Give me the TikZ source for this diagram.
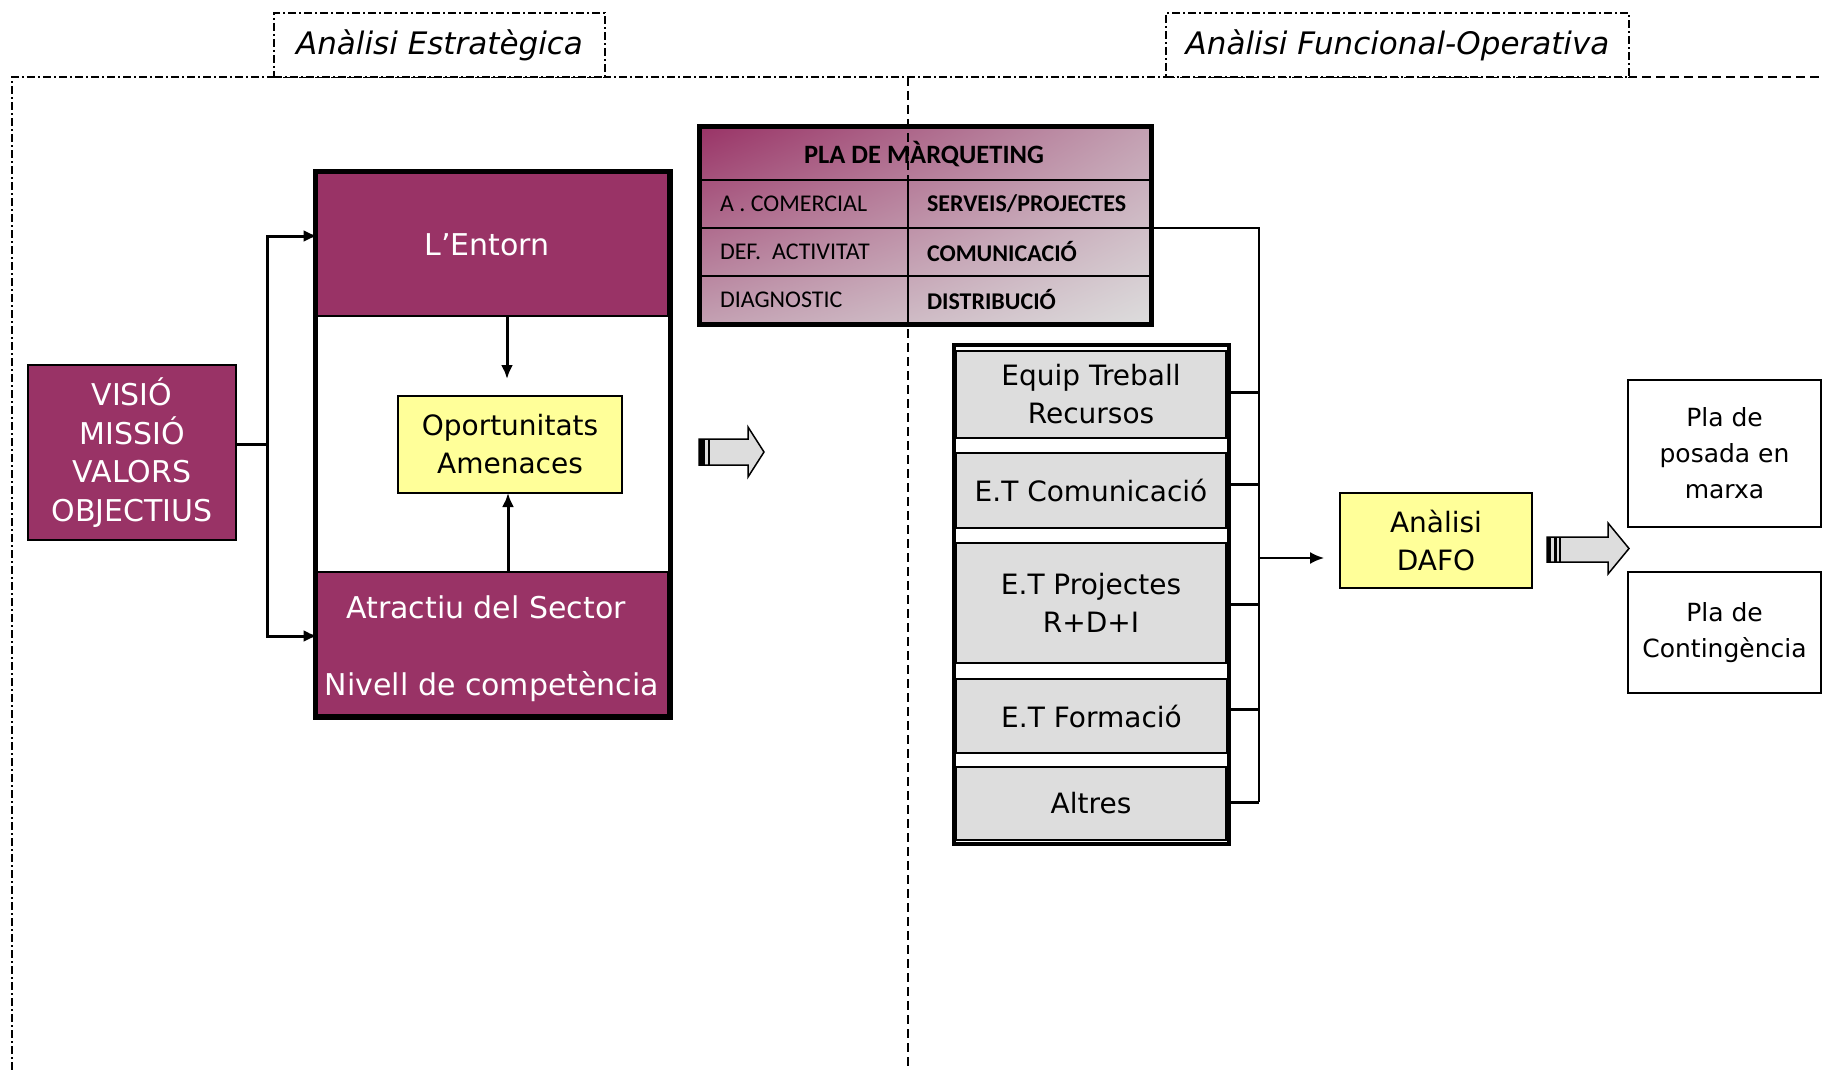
\documentclass[tikz,border=0pt]{standalone}
\usepackage{fontspec}
\setmainfont{DejaVu Sans}
\newfontfamily\calib{Carlito}
\usetikzlibrary{arrows.meta,shadings}
\definecolor{plum}{RGB}{153,51,102}
\definecolor{ylw}{RGB}{255,255,153}
\definecolor{lgray}{RGB}{221,221,221}
\definecolor{pmid}{RGB}{195,160,178}
\begin{document}
\begin{tikzpicture}[x=1pt,y=-1pt,
  every node/.style={inner sep=0pt, outer sep=0pt},
  fs/.style={font=\fontsize{28}{38}\selectfont},
  purplebox/.style={rectangle, fill=plum, draw=black, line width=1.2pt, text=white, align=center, fs},
  bandtext/.style={text=white, align=center, font=\fontsize{30}{38}\selectfont},
  yellowbox/.style={rectangle, fill=ylw, draw=black, line width=1.5pt, align=center, fs},
  graybox/.style={rectangle, fill=lgray, draw=black, line width=2pt, align=center, fs},
  whitebox/.style={rectangle, fill=white, draw=black, line width=2pt, align=center, font=\fontsize{25}{36}\selectfont},
  titlebox/.style={rectangle, draw=black, line width=1.5pt, dash pattern=on 8pt off 3pt on 2pt off 3pt, font=\fontsize{31}{36}\selectfont\itshape},
  dashdotline/.style={line width=1.5pt, dash pattern=on 8pt off 3pt on 2pt off 3pt},
  dashline/.style={line width=1.5pt, dash pattern=on 9pt off 5pt},
  conn/.style={line width=3pt},
  arr/.style={line width=3pt, -{Latex[length=14pt,width=12pt]}},
  busline/.style={line width=1.5pt},
  tick/.style={line width=3pt},
  hollow/.style={fill=lgray, draw=black, line width=1.5pt, line join=miter},
  tl/.style={font=\calib\fontsize{24}{28}\selectfont, anchor=west},
  tr/.style={font=\calib\bfseries\fontsize{24}{28}\selectfont, anchor=west}
]
\useasboundingbox (0,0) rectangle (1823,1070);

% frame lines
\draw[dashdotline] (12,1070) -- (12,77) -- (1166,77);
\draw[dashline] (1166,77) -- (1823,77);
\node[titlebox, fill=white, minimum width=331pt, minimum height=64pt] (t1) at (439.5,45) {Anàlisi Estratègica};
\node[titlebox, fill=white, minimum width=463pt, minimum height=64pt] (t2) at (1397.5,45) {Anàlisi Funcional-Operativa};

% left part
\node[purplebox, minimum width=208pt, minimum height=175pt, font=\fontsize{30}{38.5}\selectfont] (vis) at (132,452.5) {VISIÓ\\MISSIÓ\\VALORS\\OBJECTIUS};
\node[rectangle, draw=black, fill=white, line width=5pt, minimum width=355pt, minimum height=546pt] (big) at (492.5,444) {};
\node[purplebox, minimum width=350pt, minimum height=142.5pt] (entorn) at (492.5,244.75) {};
\node[bandtext] (entorntxt) at (487,245) {L’Entorn};
\node[purplebox, minimum width=350pt, minimum height=142.5pt] (sector) at (492.5,643.25) {};
\node[bandtext] (sectortxt) at (486,649) {Atractiu del Sector\\[39pt]\hspace*{12pt}Nivell de competència};
\node[yellowbox, minimum width=224pt, minimum height=97pt] (oport) at (510,444.5) {Oportunitats\\Amenaces};

\coordinate (j) at (267,444);
\draw[conn] ([yshift=8.5pt]vis.east) -- (j);
\draw[arr] (j) |- ([yshift=8.75pt]entorn.west);
\draw[arr] (j) |- ([yshift=7.25pt]sector.west);
\draw[arr] ([xshift=-3pt]oport.north |- entorn.south) -- ([xshift=-3pt,yshift=17pt]oport.north);
\draw[arr] ([xshift=-2pt]oport.south |- sector.north) -- ([xshift=-2pt]oport.south);

% hollow arrow 1
\draw[hollow] (699,439) -- (748,439) -- (748,427) -- (764,452) -- (748,477) -- (748,465) -- (699,465) -- cycle;
\fill[black] (699,439) rectangle (705,465);
\draw[line width=1.2pt] (709,439) -- (709,465);

% marketing table
\shade[upper left=plum, upper right=pmid, lower left=pmid, lower right=lgray] (699,127) rectangle (1151,324);
\node[rectangle, draw=black, line width=5pt, minimum width=452pt, minimum height=197pt] (tbl) at (925,225.5) {};
\draw[line width=2pt] (699,180) -- (1151,180);
\draw[line width=2pt] (699,228) -- (1151,228);
\draw[line width=2pt] (699,276) -- (1151,276);
\draw[line width=2pt] (908,180) -- (908,324);
\node[font=\calib\bfseries\fontsize{26.5}{30}\selectfont] (th) at (924,154) {PLA DE MÀRQUETING};
\node[tl] (a1) at (720,204) {A . COMERCIAL};
\node[tl] (a2) at (720,252) {DEF.\ \ ACTIVITAT};
\node[tl] (a3) at (720,300) {DIAGNOSTIC};
\node[tr] (b1) at (927,204) {SERVEIS/PROJECTES};
\node[tr] (b2) at (927,252) {COMUNICACIÓ};
\node[tr] (b3) at (927,300) {DISTRIBUCIÓ};

% middle dashed line
\draw[dashline] (908,77) -- (908,1070);

% stack
\node[rectangle, draw=black, fill=white, line width=4.5pt, minimum width=275pt, minimum height=499pt] (stack) at (1091.5,594.5) {};
\node[graybox, minimum width=270pt, minimum height=87pt] (e1) at (1091,394.5) {Equip Treball\\Recursos};
\node[graybox, minimum width=270pt, minimum height=75pt] (e2) at (1091,490.5) {E.T Comunicació};
\node[graybox, minimum width=270pt, minimum height=120pt] (e3) at (1091,603) {E.T Projectes\\R+D+I};
\node[graybox, minimum width=271pt, minimum height=74pt] (e4) at (1091.5,716) {E.T Formació};
\node[graybox, minimum width=270pt, minimum height=73pt] (e5) at (1091,803.5) {Altres};
\draw[line width=4.5pt] (stack.north west) rectangle (stack.south east);

% bus
\coordinate (bt) at (1259,228);
\coordinate (bb) at (1259,802);
\draw[busline] ([yshift=-2.5pt]tbl.east) -- (bt) -- (bb);
\path ([yshift=2.5pt]e1.east) coordinate (k1);
\path ([yshift=6.5pt]e2.east) coordinate (k2);
\path ([yshift=-1pt]e3.east) coordinate (k3);
\path ([yshift=7pt]e4.east) coordinate (k4);
\path ([yshift=1.5pt]e5.east) coordinate (k5);
\foreach \k in {k1,k2,k3,k4,k5} {\draw[tick] (\k) -- (\k -| bt);}

% DAFO
\node[yellowbox, minimum width=192pt, minimum height=95pt] (dafo) at (1436,540.5) {Anàlisi\\DAFO};
\coordinate (da) at (1259,558);
\draw[arr, line width=2pt, shorten >=16pt] (da) -- (da -| dafo.west);

% hollow arrow 2
\draw[hollow] (1547,537) -- (1608,537) -- (1608,523) -- (1629,548.5) -- (1608,574) -- (1608,562) -- (1547,562) -- cycle;
\fill[black] (1547,537) rectangle (1550.5,562);
\fill[black] (1553.5,537) rectangle (1556.5,562);
\draw[line width=1.2pt] (1560,537) -- (1560,562);

% right boxes
\node[whitebox, minimum width=193pt, minimum height=147pt] (posada) at (1724.5,453.5) {Pla de\\posada en\\marxa};
\node[whitebox, minimum width=193pt, minimum height=121pt] (cont) at (1724.5,632.5) {Pla de\\Contingència};
\end{tikzpicture}
\end{document}
